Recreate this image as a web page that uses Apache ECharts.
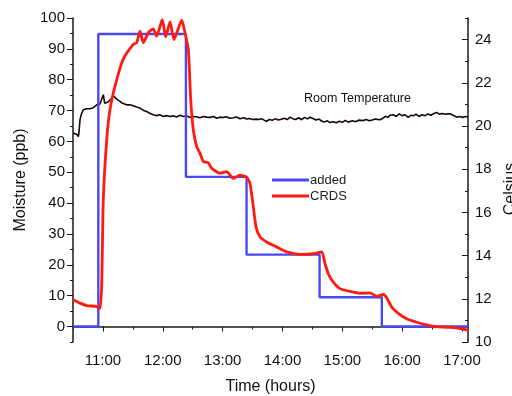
<!DOCTYPE html>
<html><head><meta charset="utf-8">
<script src="https://cdn.jsdelivr.net/npm/echarts@6/dist/echarts.min.js"></script>
<style>html,body{margin:0;padding:0;background:#fff}#c{width:512px;height:396px}</style>
</head><body><div id="c"></div>
<script>
// ---- data ----
const xLabelHours = [11, 12, 13, 14, 15, 16, 17];
const xMinorHours = [10.5, 11.5, 12.5, 13.5, 14.5, 15.5, 16.5];
const leftLabels = [0, 10, 20, 30, 40, 50, 60, 70, 80, 90, 100];
const leftMinor = [-5, 5, 15, 25, 35, 45, 55, 65, 75, 85, 95];
const rightLabels = [10, 12, 14, 16, 18, 20, 22, 24];
const rightMinor = [11, 13, 15, 17, 19, 21, 23, 25];

// "added" step levels (time of change in hours, new level in ppb)
const addedTimes = [10.5, 10.923, 12.387, 13.40, 14.62, 15.66, 17.1];
const addedLevels = [0, 94.8, 48.5, 23.3, 9.5, 0, 0];

const crdsTimes = [10.505,10.617,10.729,10.896,10.951,10.980,11.006,11.063,11.118,11.202,11.335,11.503,11.564,11.619,11.674,11.758,11.842,11.898,11.992,12.049,12.121,12.188,12.316,12.371,12.427,12.467,12.510,12.567,12.622,12.677,12.761,12.817,12.956,13.068,13.178,13.290,13.402,13.457,13.513,13.558,13.624,13.736,13.904,14.071,14.293,14.515,14.655,14.711,14.766,14.849,14.961,15.128,15.295,15.462,15.574,15.685,15.741,15.825,15.935,16.076,16.243,16.465,16.687,16.911,17.078,17.1];
const crdsValues = [8.7,7.6,6.8,6.5,5.8,13.9,41,60.5,70.3,77.9,86.5,91.4,92.0,95.7,92.0,95.2,96.5,94.1,99.5,93.9,98.7,93.0,99.3,95.2,89.8,73.5,63.8,58.3,56.2,53.5,53.1,51.3,49.7,50.2,48.0,49.1,48.4,46.4,38.8,32.3,29.1,27.4,25.8,24.2,23.4,23.6,24.2,20.4,17.1,14.4,12.3,11.4,10.8,10.9,9.8,10.4,9.3,6.3,4.3,2.5,1.4,0.3,-0.2,-0.4,-1.1,-1.2];

const tempTimes = [10.505,10.53,10.56,10.589,10.60,10.617,10.64,10.672,10.70,10.729,10.76,10.784,10.81,10.839,10.87,10.896,10.92,10.951,10.98,11.006,11.03,11.063,11.09,11.118,11.15,11.175,11.202,11.24,11.285,11.32,11.36,11.397,11.45,11.508,11.56,11.619,11.68,11.731,11.79,11.842,11.90,11.95,12.009,12.06,12.12,12.176,12.23,12.29,12.343,12.40,12.45,12.510,12.56,12.62,12.68,12.734,12.79,12.85,12.90,12.956,13.01,13.06,13.12,13.178,13.23,13.29,13.35,13.402,13.45,13.50,13.558,13.60,13.65,13.70,13.736,13.78,13.83,13.88,13.93,13.98,14.03,14.08,14.126,14.17,14.22,14.27,14.32,14.37,14.42,14.46,14.51,14.56,14.61,14.66,14.70,14.75,14.794,14.849,14.90,14.95,15.00,15.05,15.10,15.128,15.17,15.22,15.27,15.35,15.40,15.45,15.50,15.55,15.63,15.68,15.72,15.76,15.80,15.852,15.90,15.95,16.00,16.05,16.10,16.15,16.186,16.23,16.28,16.33,16.38,16.43,16.48,16.53,16.577,16.62,16.67,16.72,16.76,16.80,16.85,16.911,16.96,17.01,17.06,17.10];
const tempValues = [19.67,19.58,19.62,19.51,19.70,20.29,20.55,20.75,20.72,20.80,20.76,20.80,20.84,20.85,20.92,20.98,20.90,21.02,21.10,21.45,21.05,20.98,21.12,21.20,21.30,21.40,21.37,21.22,21.14,21.06,21.02,20.98,20.98,20.94,20.88,20.83,20.72,20.67,20.58,20.52,20.48,20.52,20.44,20.48,20.44,20.47,20.42,20.50,20.44,20.46,20.40,20.44,20.43,20.38,20.44,20.41,20.40,20.44,20.36,20.41,20.39,20.43,20.36,20.38,20.42,20.34,20.38,20.32,20.35,20.30,20.32,20.30,20.34,20.26,20.22,20.30,20.27,20.33,20.28,20.31,20.36,20.30,20.41,20.34,20.30,20.38,20.29,20.40,20.33,20.41,20.35,20.28,20.32,20.22,20.18,20.24,20.16,20.20,20.15,20.22,20.17,20.26,20.18,20.18,20.24,20.20,20.27,20.25,20.30,20.24,20.28,20.32,20.29,20.36,20.45,20.40,20.50,20.52,20.44,20.56,20.48,20.52,20.40,20.50,20.47,20.55,20.44,20.52,20.47,20.56,20.50,20.58,20.63,20.55,20.58,20.54,20.56,20.57,20.50,20.41,20.44,20.40,20.44,20.42];

// ---- chart ----
const zip = (a, b) => a.map((t, i) => [t, b[i]]);
const FONT = 'Liberation Sans, Arial, sans-serif';
const AX = '#1a1a1a';
const chart = echarts.init(document.getElementById('c'), null, {renderer: 'canvas'});

function minorAxis(base, vals, len, inside) {
  return Object.assign({}, base, {
    axisLine: {show: false},
    axisLabel: {show: false},
    splitLine: {show: false},
    name: '',
    axisTick: {show: true, inside: inside, length: len, customValues: vals, lineStyle: {color: AX, width: 1}}
  });
}

const xBase = {type: 'value', min: 10.5, max: 17.1, position: 'bottom', offset: 0};
const yLeftBase = {type: 'value', min: -5, max: 100, position: 'left', offset: 0};
const yRightBase = {type: 'value', min: 10, max: 25, position: 'right', offset: 0};

chart.setOption({
  animation: false,
  backgroundColor: '#fff',
  textStyle: {fontFamily: FONT},
  grid: {left: 73, right: 44, top: 18, bottom: 54, containLabel: false, outerBoundsMode: 'none'},
  legend: {
    data: [{name: 'added', icon: 'rect'}, {name: 'CRDS', icon: 'rect'}],
    orient: 'vertical', left: 272, top: 173, padding: 0,
    itemWidth: 37, itemHeight: 3, itemGap: 2,
    textStyle: {fontSize: 13, color: '#222', fontFamily: FONT, padding: [0, 0, 0, -4], lineHeight: 14}
  },
  xAxis: [
    Object.assign({}, xBase, {
      name: 'Time (hours)', nameLocation: 'middle', nameGap: 37,
      nameTextStyle: {fontSize: 16, color: '#111', fontFamily: FONT},
      axisLine: {show: true, lineStyle: {color: AX, width: 1.5}},
      axisTick: {show: true, length: 5, customValues: xLabelHours, lineStyle: {color: AX, width: 1}},
      axisLabel: {customValues: xLabelHours, fontSize: 15, color: '#111', margin: 11, fontFamily: FONT,
        formatter: v => Math.round(v) + ':00'},
      splitLine: {show: false}
    }),
    minorAxis(xBase, xMinorHours, 3, false)
  ],
  yAxis: [
    Object.assign({}, yLeftBase, {
      name: 'Moisture (ppb)', nameLocation: 'middle', nameGap: 44, nameRotate: 90,
      nameTextStyle: {fontSize: 16, color: '#111', fontFamily: FONT},
      axisLine: {show: true, lineStyle: {color: AX, width: 1.5}},
      axisTick: {show: true, length: 6, customValues: leftLabels, lineStyle: {color: AX, width: 1}},
      axisLabel: {customValues: leftLabels, fontSize: 15, color: '#111', margin: 8, fontFamily: FONT},
      splitLine: {show: false}
    }),
    minorAxis(yLeftBase, leftMinor, 3, false),
    Object.assign({}, yRightBase, {
      name: 'Celsius', nameLocation: 'middle', nameGap: 34, nameRotate: 90,
      nameTextStyle: {fontSize: 16, color: '#111', fontFamily: FONT, padding: [0, 18, 0, 0]},
      axisLine: {show: true, lineStyle: {color: AX, width: 1.5}},
      axisTick: {show: true, inside: true, length: 6, customValues: rightLabels, lineStyle: {color: AX, width: 1}},
      axisLabel: {customValues: rightLabels, fontSize: 15, color: '#111', margin: 7, fontFamily: FONT},
      splitLine: {show: false}
    }),
    minorAxis(yRightBase, rightMinor, 3, true)
  ],
  graphic: [{
    type: 'text', left: 304, top: 92,
    style: {text: 'Room Temperature', fontSize: 12.5, fill: '#111', fontFamily: FONT}
  }],
  series: [
    {
      name: 'Room Temperature', type: 'line', xAxisIndex: 0, yAxisIndex: 2,
      data: zip(tempTimes, tempValues), symbol: 'none', z: 2,
      lineStyle: {color: '#1a0606', width: 1.6}
    },
    {
      name: 'added', type: 'line', xAxisIndex: 0, yAxisIndex: 0, step: 'end',
      data: zip(addedTimes, addedLevels), symbol: 'none', z: 3,
      itemStyle: {color: '#4a48f2'},
      lineStyle: {color: '#4a48f2', width: 2.4}
    },
    {
      name: 'CRDS', type: 'line', xAxisIndex: 0, yAxisIndex: 0,
      data: zip(crdsTimes, crdsValues), symbol: 'none', z: 4, smooth: 0.2,
      itemStyle: {color: '#ff1a12'},
      lineStyle: {color: '#ff1a12', width: 2.8}
    }
  ]
});
</script>
</body></html>
